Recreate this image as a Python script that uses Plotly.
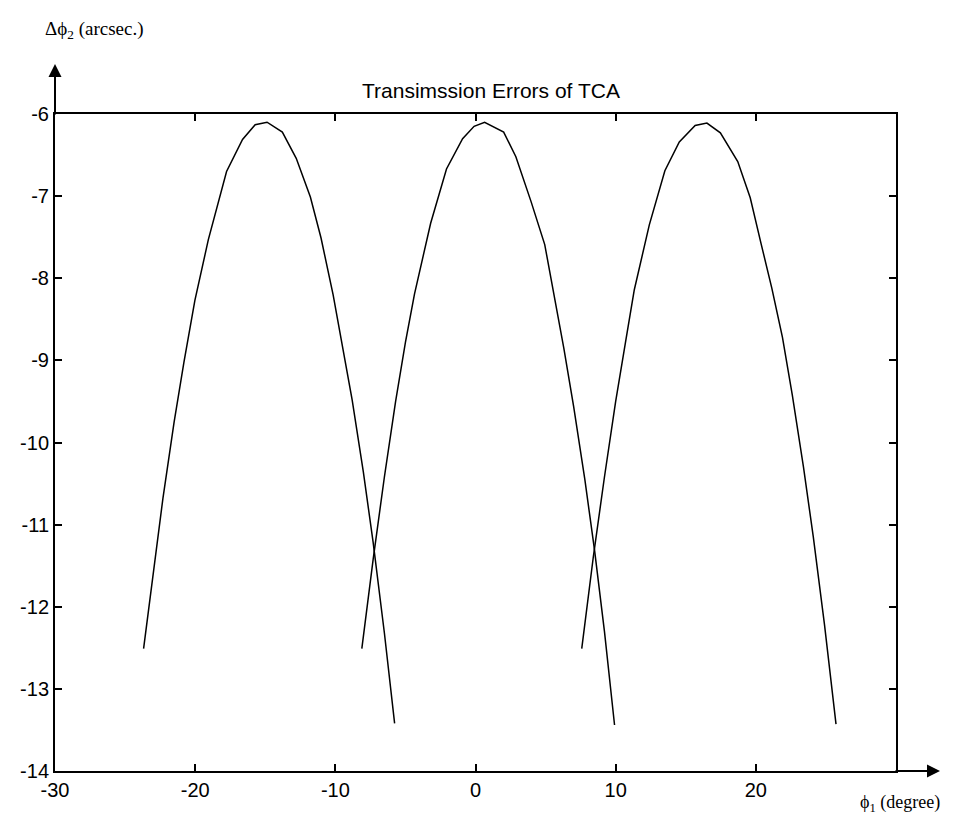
import plotly.graph_objects as go

# ---- data ----
x_curve1 = [-23.68, -23.0, -22.3, -21.5, -20.8, -20.02, -19.06, -17.76, -16.62, -15.72, -14.87,
            -13.78, -12.79, -11.78, -11.02, -10.16, -9.5, -8.8, -8.0, -7.3, -6.5, -5.77]
y_curve1 = [-12.51, -11.59, -10.68, -9.75, -9.02, -8.27, -7.53, -6.70, -6.31, -6.13, -6.10,
            -6.22, -6.54, -7.01, -7.51, -8.20, -8.80, -9.48, -10.36, -11.22, -12.32, -13.42]

x_curve2 = [-8.11, -7.3, -6.5, -5.7, -5.0, -4.35, -3.2, -2.07, -0.92, -0.1, 0.65,
            2.01, 2.88, 3.97, 4.94, 5.56, 6.3, 7.0, 7.8, 8.5, 9.2, 9.92]
y_curve2 = [-12.51, -11.42, -10.42, -9.50, -8.78, -8.19, -7.33, -6.67, -6.30, -6.15, -6.10,
            -6.22, -6.52, -7.07, -7.59, -8.16, -8.85, -9.56, -10.45, -11.32, -12.30, -13.44]

x_curve3 = [7.58, 8.4, 9.2, 10.0, 10.7, 11.33, 12.4, 13.51, 14.54, 15.67, 16.51,
            17.47, 18.71, 19.60, 20.39, 21.14, 21.9, 22.6, 23.4, 24.1, 24.9, 25.72]
y_curve3 = [-12.51, -11.40, -10.42, -9.50, -8.78, -8.14, -7.35, -6.69, -6.34, -6.14, -6.11,
            -6.23, -6.58, -7.02, -7.59, -8.12, -8.72, -9.42, -10.30, -11.15, -12.22, -13.43]

x_ticks = [-30, -20, -10, 0, 10, 20]
y_ticks = [-14, -13, -12, -11, -10, -9, -8, -7, -6]
x_tick_labels = ["-30", "-20", "-10", "0", "10", "20"]
y_tick_labels = ["-14", "-13", "-12", "-11", "-10", "-9", "-8", "-7", "-6"]

title_text = "Transimssion Errors of TCA"
y_label = "Δϕ<sub>2</sub> (arcsec.)"
x_label = "ϕ<sub>1</sub> (degree)"

W, H = 959, 814
L, R, T, B = 47, 71, 106, 51
pw, ph = W - L - R, H - T - B

fig = go.Figure()
for xs, ys in [(x_curve1, y_curve1), (x_curve2, y_curve2), (x_curve3, y_curve3)]:
    fig.add_trace(go.Scatter(x=xs, y=ys, mode="lines",
                             line=dict(color="black", width=1.5),
                             showlegend=False, hoverinfo="skip"))

tick_font = dict(family="Liberation Sans, Arial, sans-serif", size=20, color="black")
fig.update_xaxes(range=[-30, 30], tickvals=x_ticks, ticktext=x_tick_labels,
                 ticks="inside", ticklen=7,
                 tickwidth=1.5, tickcolor="black", showline=True, linewidth=2,
                 linecolor="black", mirror="ticks", showgrid=False, zeroline=False,
                 tickfont=tick_font)
fig.update_yaxes(range=[-14, -6], tickvals=y_ticks, ticktext=y_tick_labels,
                 ticks="inside", ticklen=7,
                 tickwidth=1.5, tickcolor="black", showline=True, linewidth=2,
                 linecolor="black", mirror="ticks", showgrid=False, zeroline=False,
                 tickfont=tick_font)

annotations = [
    dict(text=title_text, x=(483 - L) / pw, y=(H - B - 82) / ph, xref="paper", yref="paper",
         showarrow=False, xanchor="center", yanchor="middle",
         font=dict(family="Liberation Sans, Arial, sans-serif", size=21, color="black")),
    dict(text=y_label, x=(35 - L) / pw, y=(H - B - 22) / ph, xref="paper", yref="paper",
         showarrow=False, xanchor="left", yanchor="middle",
         font=dict(family="Liberation Serif, Times New Roman, serif", size=19, color="black")),
    dict(text=x_label, x=(850 - L) / pw, y=(H - B - 795) / ph, xref="paper", yref="paper",
         showarrow=False, xanchor="left", yanchor="middle",
         font=dict(family="Liberation Serif, Times New Roman, serif", size=18, color="black")),
    # y-axis arrow
    dict(text="", x=0, y=1 + 50 / ph, xref="paper", yref="paper", showarrow=True,
         ax=0, ay=52, axref="pixel", ayref="pixel", arrowhead=2, arrowsize=1.3,
         arrowwidth=2, arrowcolor="black"),
    # x-axis arrow
    dict(text="", x=1 + 44 / pw, y=0, xref="paper", yref="paper", showarrow=True,
         ax=-46, ay=0, axref="pixel", ayref="pixel", arrowhead=2, arrowsize=1.3,
         arrowwidth=2, arrowcolor="black"),
]

fig.update_layout(width=W, height=H, margin=dict(l=L, r=R, t=T, b=B),
                  paper_bgcolor="white", plot_bgcolor="white",
                  annotations=annotations)

fig.write_html("out.html")
